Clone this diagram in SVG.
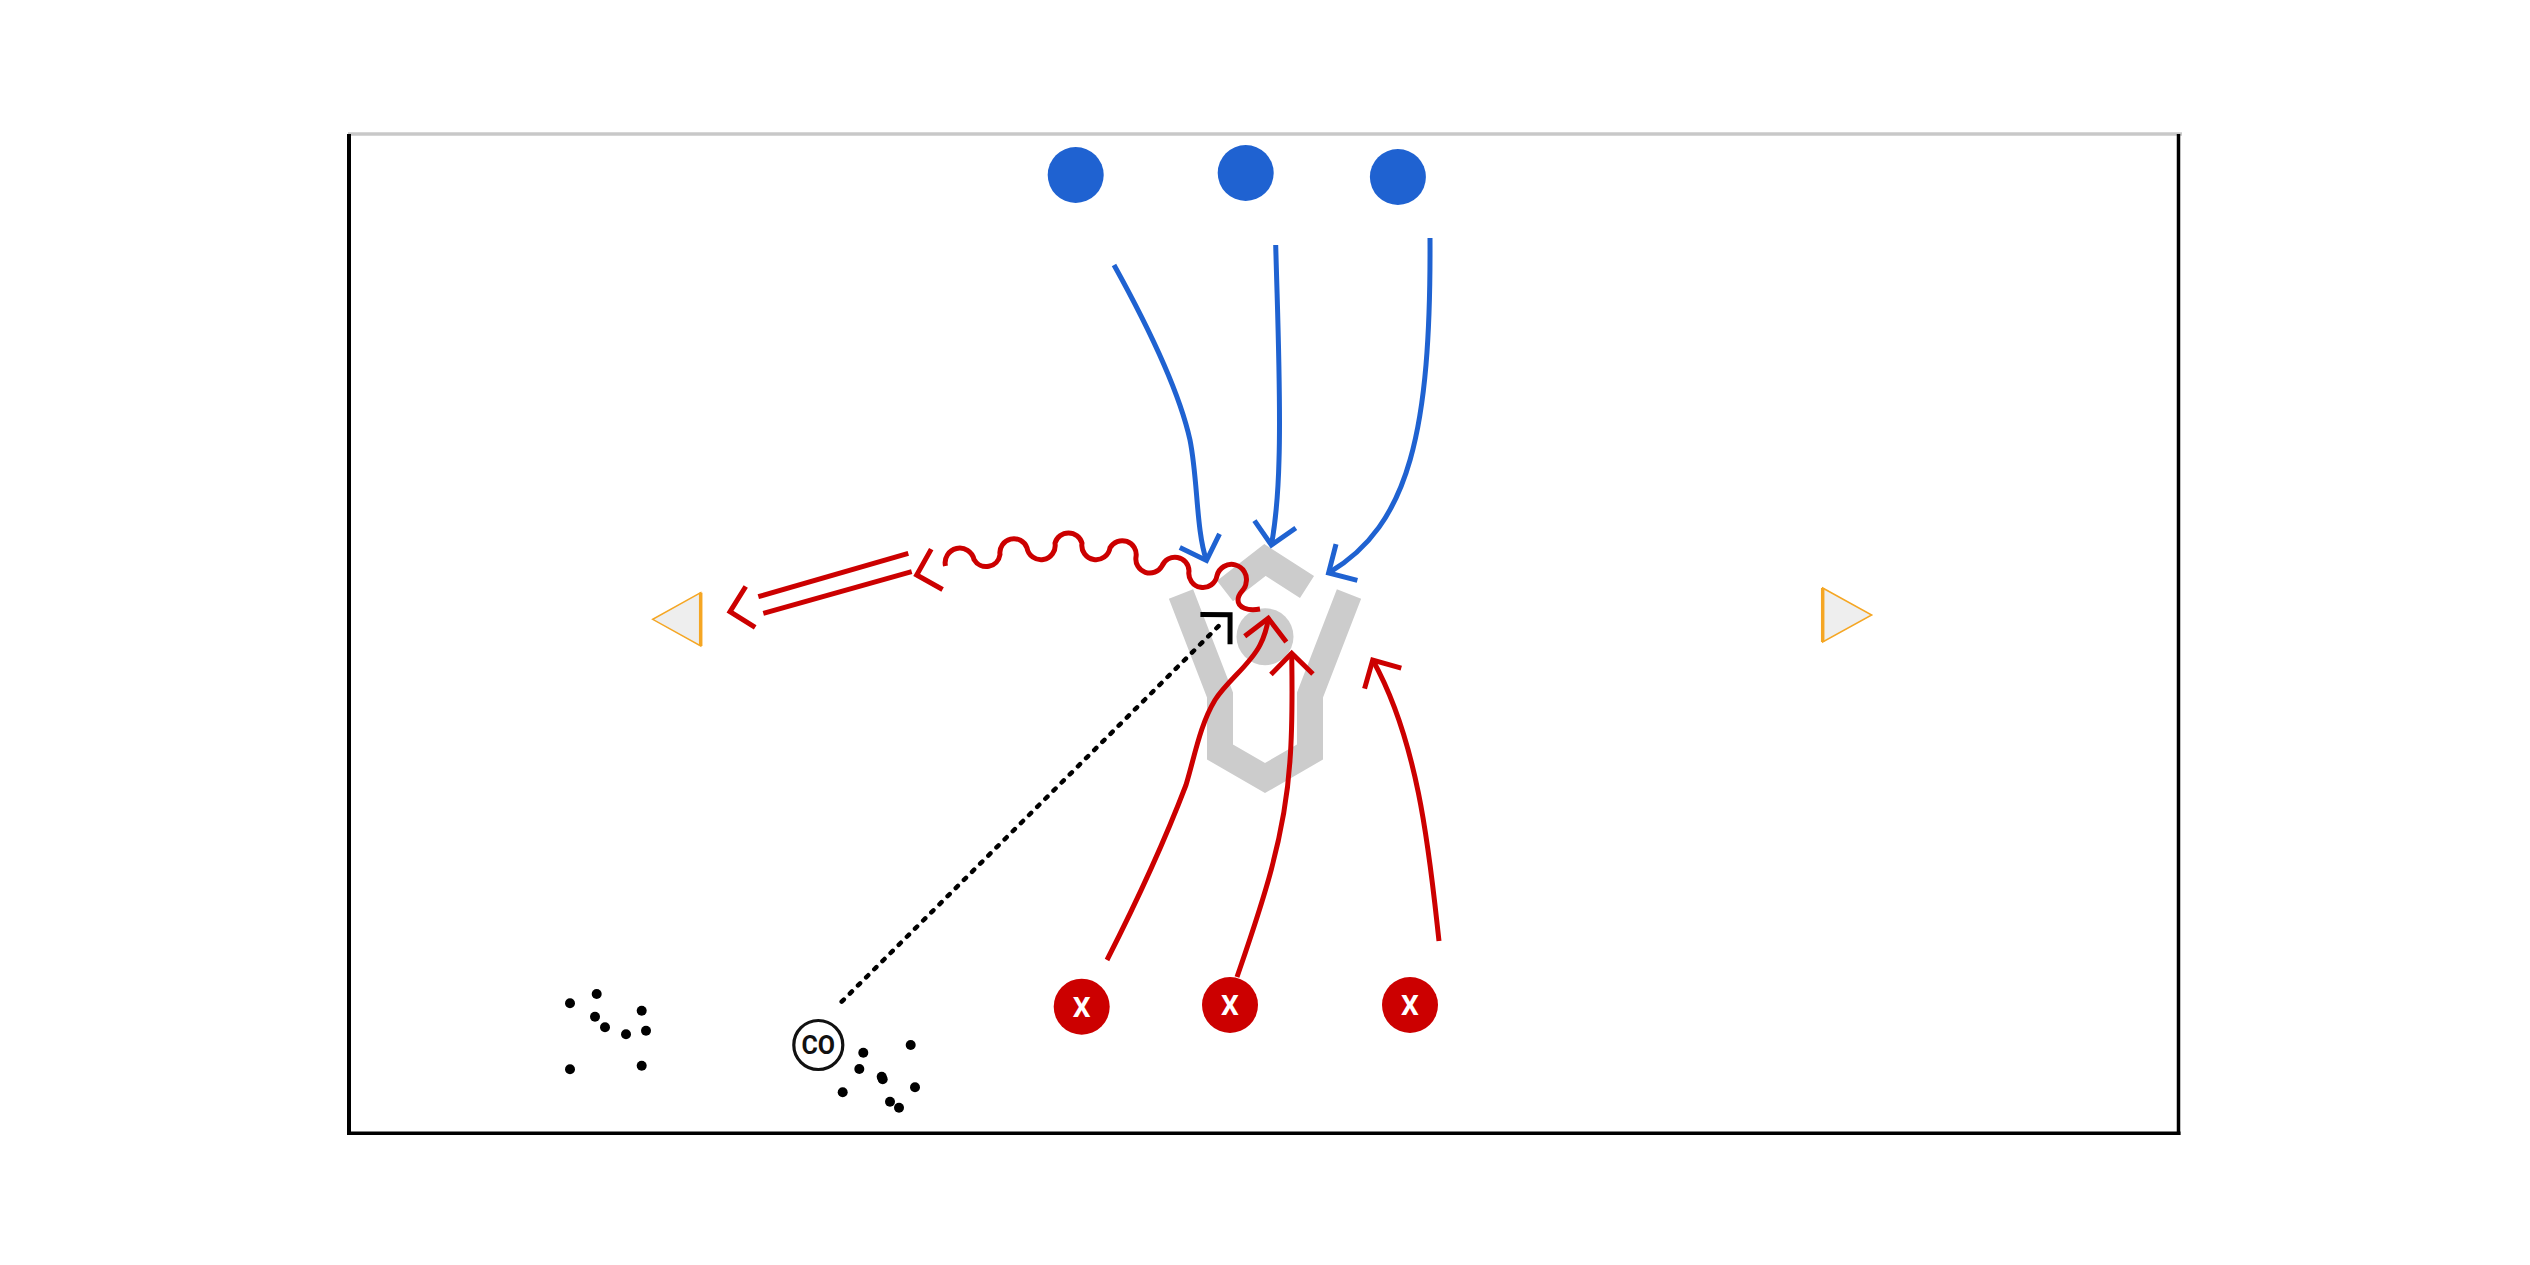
<svg xmlns="http://www.w3.org/2000/svg" width="2530" height="1265" viewBox="0 0 2530 1265">
<style>
.blue{fill:none;stroke:#1f62d1;stroke-width:5}
.red{fill:none;stroke:#cc0000;stroke-width:5}
.blk{fill:none;stroke:#000;stroke-width:4.5}
.gray{fill:none;stroke:#cccccc;stroke-width:26;stroke-linejoin:miter}
.dot{fill:#000}
.bp{fill:#1f62d1}
.rp{fill:#cc0000}
.xt{fill:#fff;font-family:Roboto,"Liberation Sans",sans-serif;font-weight:bold;font-size:28px;text-anchor:middle}
.cone{fill:#eeeeee;stroke:#f5a623;stroke-width:1.5}
.coneb{stroke:#f5a623;stroke-width:3.5}
</style>
<defs>
<marker id="ab" markerUnits="userSpaceOnUse" orient="auto" overflow="visible" markerWidth="1" markerHeight="1" refX="0" refY="0"><path d="M-21 -21 L0 0 L-21 21" fill="none" stroke="#1f62d1" stroke-width="5"/></marker>
<marker id="ar" markerUnits="userSpaceOnUse" orient="auto" overflow="visible" markerWidth="1" markerHeight="1" refX="0" refY="0"><path d="M-21 -21 L0 0 L-21 21" fill="none" stroke="#cc0000" stroke-width="5"/></marker>
<marker id="ak" markerUnits="userSpaceOnUse" orient="auto" overflow="visible" markerWidth="1" markerHeight="1" refX="0" refY="0"><path d="M-11 -21 L10 0 L-11 21" fill="none" stroke="#000" stroke-width="5"/></marker>
<path id="chev" d="M21 -21 L0 0 L21 21" fill="none" stroke="#cc0000" stroke-width="5"/>
</defs>
<rect width="2530" height="1265" fill="#fff"/>
<g id="frame">
<line x1="348" y1="134" x2="2182" y2="134" stroke="#c8c8c8" stroke-width="3.5"/>
<line x1="349" y1="134" x2="349" y2="1135" stroke="#000" stroke-width="4"/>
<line x1="2178.5" y1="134" x2="2178.5" y2="1135" stroke="#000" stroke-width="3.5"/>
<line x1="347" y1="1133.3" x2="2180.5" y2="1133.3" stroke="#000" stroke-width="3.5"/>
</g>
<g id="obstacle">
<path class="gray" d="M1225 591 L1265 560 L1307 587"/>
<path class="gray" d="M1181 594 L1220 695 L1220 752 L1265 778 L1310 752 L1310 695 L1349 594"/>
<circle cx="1265" cy="636.7" r="28.5" fill="#cccccc"/>
</g>
<g id="cone-left"><polygon class="cone" points="700.7,592.7 652.7,619.3 700.7,646"/><line class="coneb" x1="700.7" y1="592.7" x2="700.7" y2="646"/></g>
<g id="cone-right"><polygon class="cone" points="1822.7,588 1871.7,615 1822.7,642"/><line class="coneb" x1="1822.7" y1="588" x2="1822.7" y2="642"/></g>
<g id="balls-left">
<circle class="dot" cx="570" cy="1003.3" r="5"/><circle class="dot" cx="596.7" cy="994" r="5"/><circle class="dot" cx="641.7" cy="1010.7" r="5"/><circle class="dot" cx="595" cy="1016.7" r="5"/><circle class="dot" cx="605" cy="1027.3" r="5"/><circle class="dot" cx="626" cy="1034.3" r="5"/><circle class="dot" cx="646" cy="1030.7" r="5"/><circle class="dot" cx="570" cy="1069.3" r="5"/><circle class="dot" cx="641.7" cy="1065.7" r="5"/>
</g>
<g id="balls-right">
<circle class="dot" cx="863.3" cy="1052.7" r="5"/><circle class="dot" cx="910.7" cy="1045" r="5"/><circle class="dot" cx="859.3" cy="1069" r="5"/><circle class="dot" cx="881.7" cy="1076.7" r="5"/><circle class="dot" cx="882.7" cy="1079.3" r="5"/><circle class="dot" cx="842.7" cy="1092.3" r="5"/><circle class="dot" cx="915" cy="1087.3" r="5"/><circle class="dot" cx="890" cy="1101.7" r="5"/><circle class="dot" cx="899" cy="1107.7" r="5"/>
</g>
<g id="coach"><circle cx="818.3" cy="1045" r="24.5" fill="#fff" stroke="#111" stroke-width="3.2"/><text x="818.3" y="1054" font-family="Roboto, 'Liberation Sans', sans-serif" font-weight="bold" font-size="25" text-anchor="middle" fill="#111">CO</text></g>
<g id="blue-1"><circle class="bp" cx="1075.7" cy="175" r="28"/></g>
<g id="blue-2"><circle class="bp" cx="1245.7" cy="173" r="28"/></g>
<g id="blue-3"><circle class="bp" cx="1397.9" cy="177" r="28"/></g>
<g id="red-1"><circle class="rp" cx="1081.7" cy="1006.7" r="28"/><text class="xt" x="1081.7" y="1016.7">X</text></g>
<g id="red-2"><circle class="rp" cx="1230" cy="1005" r="28"/><text class="xt" x="1230" y="1015">X</text></g>
<g id="red-3"><circle class="rp" cx="1410" cy="1005" r="28"/><text class="xt" x="1410" y="1015">X</text></g>
<g id="connectors">
<path class="blue" marker-end="url(#ab)" d="M1114 265 C1150 330, 1180 395, 1190 440 C1198 480, 1196 530, 1206.5 560.5"/>
<path class="blue" marker-end="url(#ab)" d="M1275.7 245 C1278 330, 1281 400, 1279 460 C1278 500, 1275 525, 1271.4 545"/>
<path class="blue" marker-end="url(#ab)" d="M1430 238 C1431 430, 1410 525, 1328.6 573"/>
<path class="red" marker-end="url(#ar)" d="M1107 960 C1135 905, 1165 840, 1186 785 C1195 755, 1200 725, 1215 700 C1228 680, 1250 665, 1260 645 C1265 635, 1267 628, 1268.3 618.3"/>
<path class="red" marker-end="url(#ar)" d="M1237 977 C1260 910, 1285 840, 1290 760 C1293 720, 1292 680, 1291.7 653.3"/>
<path class="red" marker-end="url(#ar)" d="M1439 941 C1430 860, 1420 745, 1372.7 660"/>
<path class="red" d="M945.5 566 A14 14 0 0 1 974 559.5 A14 14 0 0 0 1000 554.5 A14 14 0 0 1 1027 547.8 A14 14 0 0 0 1055 543.2 A14 14 0 0 1 1082 543.2 A14 14 0 0 0 1110 547.8 A14 14 0 0 1 1136 557 A14 14 0 0 0 1162 566 A14 14 0 0 1 1189 571 A14 14 0 0 0 1217 575.7 A14 14 0 0 1 1246 583 C1246 590, 1238 592, 1238 600 C1238 608, 1248 611, 1260 609"/>
<use href="#chev" transform="translate(916.7,575) rotate(-15.7)"/>
<line class="red" x1="908.3" y1="553.3" x2="758.3" y2="596.7"/>
<line class="red" x1="911.7" y1="571.7" x2="763.3" y2="613.3"/>
<use href="#chev" transform="translate(730,611.7) rotate(-13)"/>
<path class="blk" stroke-dasharray="3 8.5" stroke-linecap="round" marker-end="url(#ak)" d="M841.7 1001.7 L1223 621.7"/>
</g>
</svg>
